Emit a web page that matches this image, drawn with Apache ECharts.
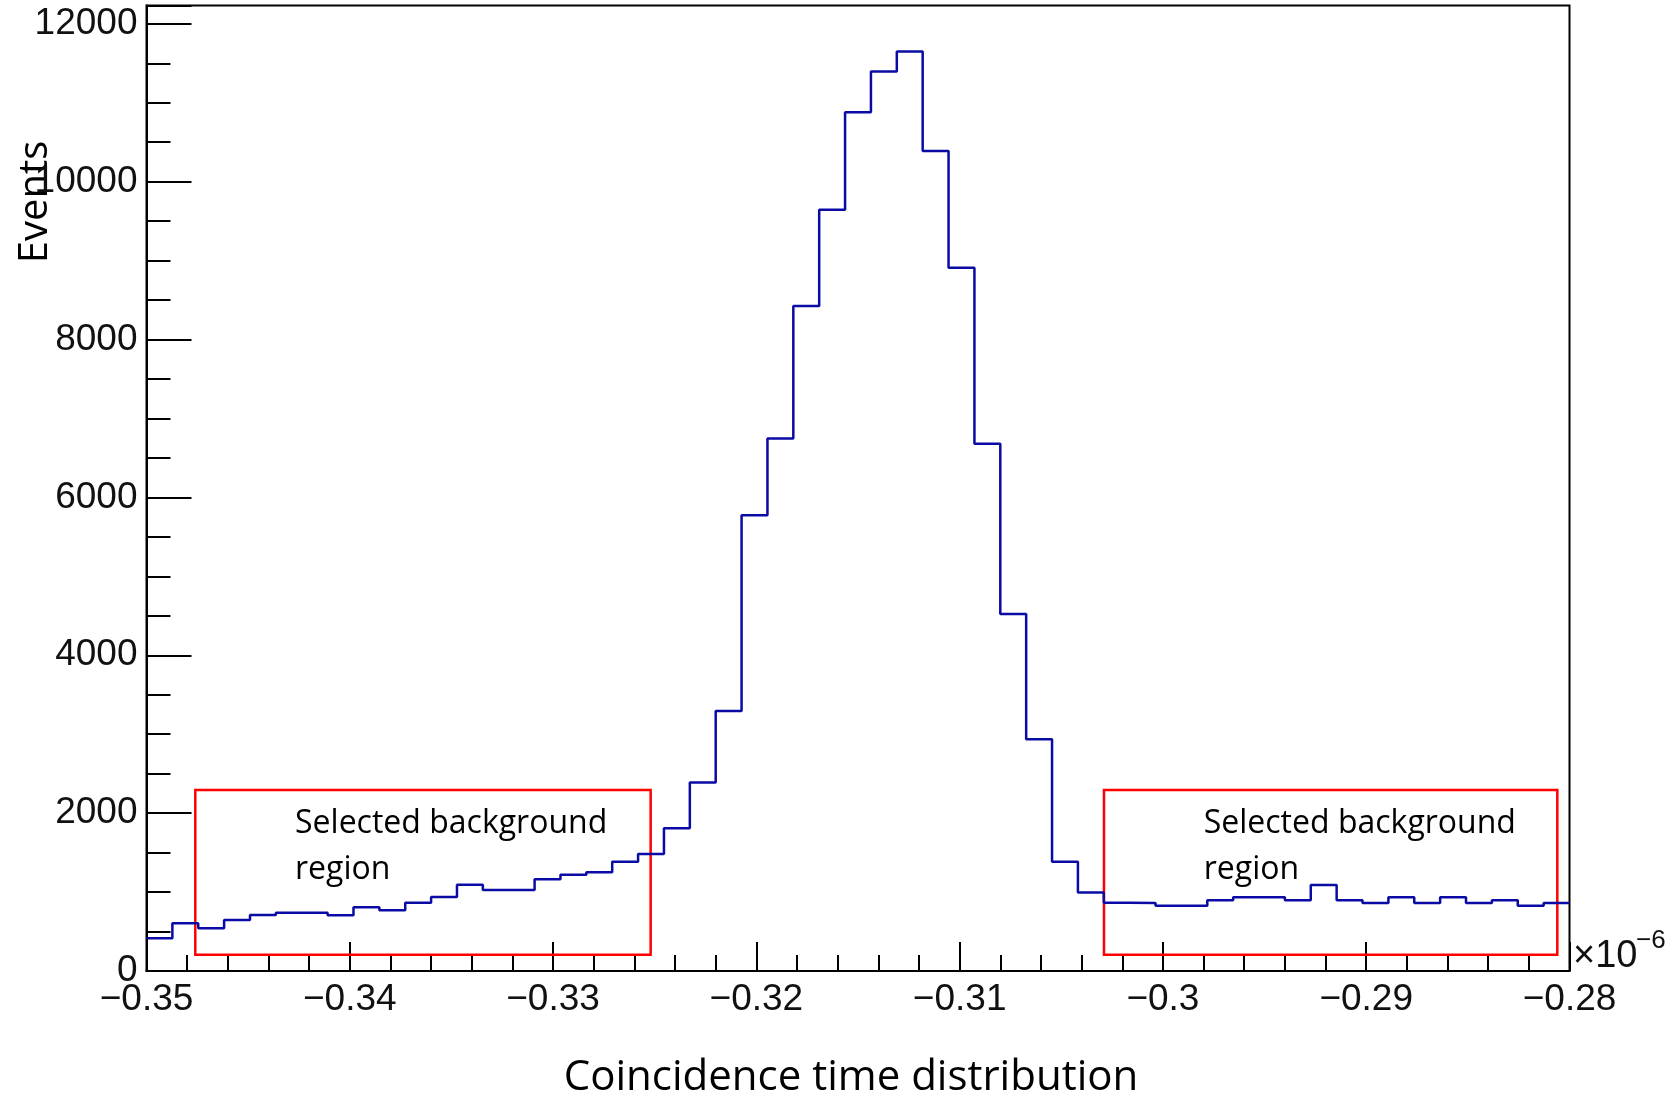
<!DOCTYPE html>
<html><head><meta charset="utf-8">
<script src="https://cdn.jsdelivr.net/npm/echarts@6/dist/echarts.min.js"></script>
<style>html,body{margin:0;padding:0;background:#fff}#c{width:1665px;height:1095px}</style>
</head><body><div id="c"></div>
<script>
// Histogram definition (x in units of 1e-6 s)
const binMin = -0.35;
const binMax = -0.28;
const nBins = 55;
// Events per bin
const counts = [
  414, 604, 541, 646, 710, 739, 739, 705, 807, 769,
  866, 938, 1094, 1026, 1026, 1162, 1220, 1250, 1385, 1483,
  1810, 2388, 3295, 5775, 6745, 8425, 9645, 10880, 11395, 11650,
  10390, 8910, 6680, 4522, 2935, 1385, 995, 865, 861, 828,
  828, 895, 933, 933, 895, 1090, 895, 861, 933, 861,
  933, 861, 895, 828, 861
];
const yMax = 12232;
// Selected background boxes: [xFrom, yFrom, xTo, yTo]
const leftBox = [-0.3476, 206, -0.3252, 2293];
const rightBox = [-0.3029, 206, -0.2806, 2293];
const boxText = 'Selected background\nregion';
const xTitle = 'Coincidence time distribution';
const yTitle = 'Events';
const xScaleText = '\u00d710';
const xScaleExp = '\u22126';

const w = (binMax - binMin) / nBins;
const pts = counts.map((v, i) => [binMin + i * w, v]);
pts.push([binMax, counts[counts.length - 1]]);

const chart = echarts.init(document.getElementById('c'), null, {renderer: 'canvas'});
const labelFont = 'Liberation Sans';
const boxLabel = {
  show: true, position: [101, 12], align: 'left', verticalAlign: 'top',
  fontSize: 32, lineHeight: 46, fontFamily: 'Open Sans', color: '#000'
};
chart.setOption({
  animation: false,
  backgroundColor: '#fff',
  grid: {left: 146.5, right: 95.5, top: 5.5, bottom: 124, show: true,
         borderColor: '#000', borderWidth: 2, backgroundColor: 'transparent'},
  xAxis: {
    type: 'value', min: binMin, max: binMax, interval: 0.01,
    axisLine: {show: true, lineStyle: {color: '#000', width: 2}},
    axisTick: {show: true, inside: true, length: 29, lineStyle: {color: '#000', width: 2}},
    minorTick: {show: true, splitNumber: 5, length: 16, lineStyle: {color: '#000', width: 2}},
    splitLine: {show: false},
    axisLabel: {
      fontSize: 37, fontFamily: labelFont, color: '#111', margin: 10,
      formatter: v => { const r = Math.round(v * 1000) / 1000; return (r < 0 ? '\u2212' : '') + String(Math.abs(r)); }
    }
  },
  yAxis: [{
    type: 'value', min: 0, max: yMax, interval: 2000,
    axisLine: {show: true, lineStyle: {color: '#000', width: 2}},
    axisTick: {show: true, inside: true, length: 45, lineStyle: {color: '#000', width: 2}},
    splitLine: {show: false},
    axisLabel: {
      fontSize: 37, fontFamily: labelFont, color: '#111', margin: 9,
      formatter: v => (v % 2000 === 0 ? String(v) : '')
    }
  }, {
    type: 'value', min: 0, max: yMax, interval: 500, position: 'left',
    axisLine: {show: false},
    axisTick: {show: true, inside: true, length: 24, lineStyle: {color: '#000', width: 2}},
    splitLine: {show: false},
    axisLabel: {show: false}
  }],
  series: [{
    type: 'line', step: 'end', data: pts, yAxisIndex: 0,
    showSymbol: false, symbol: 'none',
    lineStyle: {color: '#0a0aa5', width: 2.5},
    markArea: {
      silent: true,
      itemStyle: {color: 'rgba(0,0,0,0)', borderColor: '#ff0000', borderWidth: 2.5},
      label: boxLabel,
      data: [
        [{xAxis: leftBox[0], yAxis: leftBox[1], name: boxText}, {xAxis: leftBox[2], yAxis: leftBox[3]}],
        [{xAxis: rightBox[0], yAxis: rightBox[1], name: boxText}, {xAxis: rightBox[2], yAxis: rightBox[3]}]
      ]
    }
  }],
  graphic: [
    {type: 'text', x: 36, y: 202, rotation: Math.PI / 2,
     style: {text: yTitle, fontSize: 40, fontFamily: 'Open Sans', fill: '#000', align: 'center', verticalAlign: 'middle'}},
    {type: 'text', x: 851, y: 1078,
     style: {text: xTitle, fontSize: 42, fontFamily: 'Open Sans', fill: '#000', align: 'center', verticalAlign: 'middle'}},
    {type: 'text', x: 1573, y: 957,
     style: {text: xScaleText, fontSize: 38, fontFamily: labelFont, fill: '#111', align: 'left', verticalAlign: 'middle'}},
    {type: 'text', x: 1636, y: 941,
     style: {text: xScaleExp, fontSize: 26, fontFamily: labelFont, fill: '#111', align: 'left', verticalAlign: 'middle'}}
  ]
});
</script>
</body></html>
